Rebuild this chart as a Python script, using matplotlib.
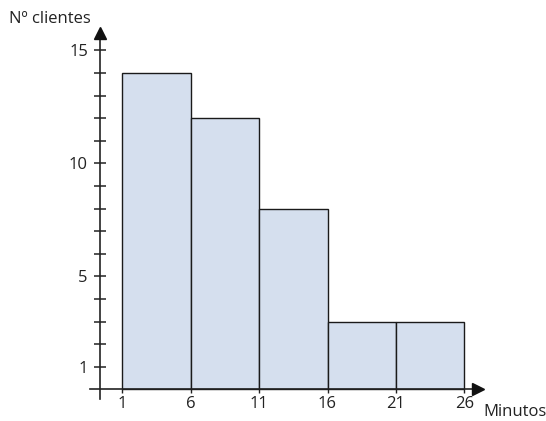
import numpy as np
import matplotlib.pyplot as plt

# histogram data: time intervals (minutes) and number of clients
edges = [1, 6, 11, 16, 21, 26]
counts = [14, 12, 8, 3, 3]
y_major = [1, 5, 10, 15]
y_minor = list(range(2, 15))

plt.rcParams['font.family'] = ['Open Sans', 'DejaVu Sans']

fig = plt.figure(figsize=(5.46, 4.21), dpi=100)
ax = fig.add_axes([0, 0, 1, 1])
ax.set_xlim(-7.94, 31.97)
ax.set_ylim(-1.40, 17.23)

widths = np.diff(edges)
ax.bar(edges[:-1], counts, width=widths, align='edge',
       color='#d5dfee', edgecolor='#1a1a1a', linewidth=1.0, zorder=2)

# axes through origin-ish positions
for s in ['top', 'right']:
    ax.spines[s].set_visible(False)
ax.spines['left'].set_position(('data', -0.65))
ax.spines['bottom'].set_position(('data', 0))
ax.spines['left'].set_bounds(-0.42, 15.6)
ax.spines['bottom'].set_bounds(-1.36, 26.9)
for s in ['left', 'bottom']:
    ax.spines[s].set_linewidth(1.2)
    ax.spines[s].set_color('#222222')
    ax.spines[s].set_zorder(3)

# arrow heads
ax.plot(-0.65, 15.75, marker='^', markersize=9, color='#111111', clip_on=False, zorder=4)
ax.plot(27.0, 0, marker='>', markersize=9, color='#111111', clip_on=False, zorder=4)

ax.set_yticks(y_major)
ax.set_yticks(y_minor, minor=True)
ax.tick_params(axis='y', which='both', direction='inout', length=9, width=1.1,
               color='#222222', labelsize=12, pad=4)
ax.set_xticks(edges)
ax.tick_params(axis='x', direction='out', length=3, width=1.0,
               color='#222222', labelsize=12, pad=2)
ax.set_xticklabels([str(e) for e in edges])
for lab in ax.get_xticklabels() + ax.get_yticklabels():
    lab.set_color('#222222')

ax.text(-0.65 - 6.6, 16.4, 'Nº clientes', fontsize=12, color='#222222', va='center', ha='left')
ax.text(27.4, -0.98, 'Minutos', fontsize=12, color='#222222', va='center', ha='left')

fig.savefig('out.png', dpi=100)
